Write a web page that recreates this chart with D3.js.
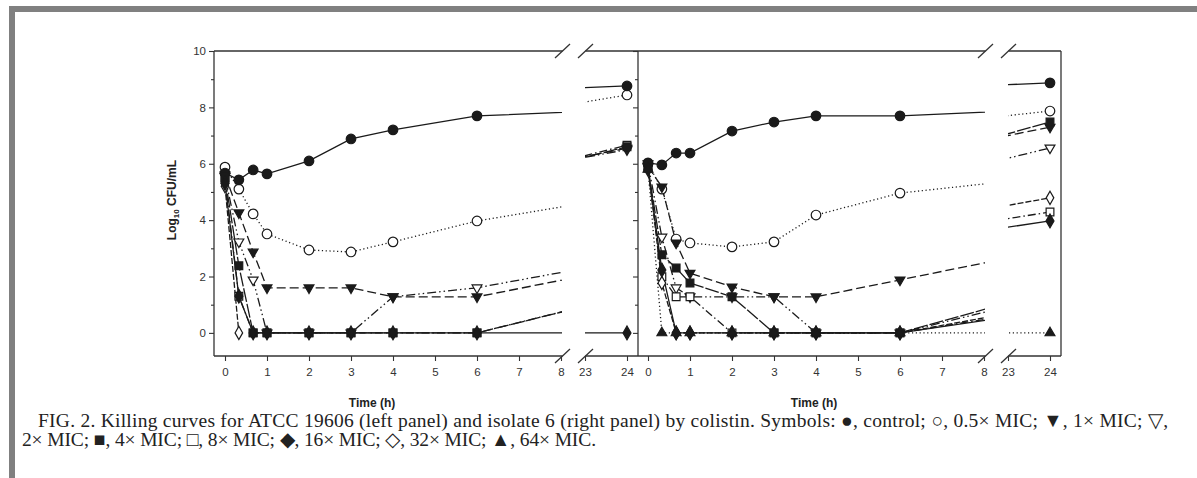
<!DOCTYPE html>
<html>
<head>
<meta charset="utf-8">
<script src="https://cdn.jsdelivr.net/npm/d3@7"></script>
<style>
body { margin: 0; background: #fff; }
svg text { font-family: Arial, "Liberation Sans", sans-serif; }
</style>
</head>
<body>
<svg id="chart" width="1197" height="478"></svg>
<script>
// sampling times (h)
var timeH = [0, 0.33, 0.67, 1, 2, 3, 4, 6, 24];
var xTicksEarly = [0, 1, 2, 3, 4, 5, 6, 7, 8];
var xTicksLate = [23, 24];
var yTicks = [0, 1, 2, 3, 4, 5, 6, 7, 8, 9, 10];
var seriesLabels = ["control", "0.5x MIC", "1x MIC", "2x MIC", "4x MIC", "8x MIC", "16x MIC", "32x MIC", "64x MIC"];

// ATCC 19606 (left panel), log10 CFU/mL
var atccControl = [5.67, 5.43, 5.78, 5.64, 6.1, 6.88, 7.2, 7.7, 8.76];
var atccHalf    = [5.88, 5.1, 4.22, 3.51, 2.94, 2.87, 3.23, 3.97, 8.44];
var atccMic1    = [5.6, 4.26, 2.87, 1.6, 1.6, 1.6, 1.28, 1.28, 6.55];
var atccMic2    = [5.55, 3.23, 1.88, 0, 0, 0, 1.28, 1.6, 6.5];
var atccMic4    = [5.5, 2.38, 0, 0, 0, 0, 0, 0, 6.6];
var atccMic8    = [5.45, 1.3, 0, 0, 0, 0, 0, 0, 6.66];
var atccMic16   = [5.3, 1.3, 0, 0, 0, 0, 0, 0, 0];
var atccMic32   = [5.2, 0, null, null, null, null, null, null, null];
var atccMic64   = [null, null, null, null, null, null, null, null, null];

// isolate 6 (right panel)
var iso6Control = [6.03, 5.96, 6.38, 6.38, 7.16, 7.48, 7.7, 7.7, 8.87];
var iso6Half    = [6.0, 5.1, 3.33, 3.19, 3.05, 3.23, 4.18, 4.96, 7.87];
var iso6Mic1    = [5.9, 5.18, 3.19, 2.12, 1.63, 1.28, 1.28, 1.88, 7.3];
var iso6Mic2    = [6.0, 3.4, 1.6, 1.28, 1.28, 1.28, 0, 0, 6.56];
var iso6Mic4    = [5.85, 2.77, 2.3, 1.77, 1.28, 0, 0, 0, 7.48];
var iso6Mic8    = [5.9, 1.99, 1.28, 1.28, 0, 0, 0, 0, 4.29];
var iso6Mic16   = [5.8, 2.23, 0, 0, 0, 0, 0, 0, 3.97];
var iso6Mic32   = [5.9, 1.77, 0, 0, 0, 0, 0, 0, 4.79];
var iso6Mic64   = [5.8, 0, 0, 0, 0, 0, 0, 0, 0];

// one style per series: symbol, filled, rotation, dash
var styles = [
    {sym: d3.symbolCircle, size: 72, fill: true, rot: 0, dash: null},
    {sym: d3.symbolCircle, size: 72, fill: false, rot: 0, dash: "1.2,2.6"},
    {sym: d3.symbolTriangle, size: 42, fill: true, rot: 180, dash: "9,4"},
    {sym: d3.symbolTriangle, size: 42, fill: false, rot: 180, dash: "9,3,1.5,3,1.5,3"},
    {sym: d3.symbolSquare, size: 60, fill: true, rot: 0, dash: "14,2"},
    {sym: d3.symbolSquare, size: 60, fill: false, rot: 0, dash: "8,3,1.5,3"},
    {sym: d3.symbolDiamond, size: 55, fill: true, rot: 0, dash: null},
    {sym: d3.symbolDiamond, size: 50, fill: false, rot: 0, dash: "6,2"},
    {sym: d3.symbolTriangle, size: 42, fill: true, rot: 0, dash: "1.2,2.6"}
];

var panels = [
    {left: 214, zero: 225, right: 638, yLabels: true, border: false, titleX: 372,
     series: [atccControl, atccHalf, atccMic1, atccMic2, atccMic4, atccMic8, atccMic16, atccMic32, atccMic64]},
    {left: 638, zero: 648, right: 1061, yLabels: false, border: true, titleX: 814,
     series: [iso6Control, iso6Half, iso6Mic1, iso6Mic2, iso6Mic4, iso6Mic8, iso6Mic16, iso6Mic32, iso6Mic64]}
];

var svg = d3.select("#chart");
var yTop = 51, yBottom = 356;
var ink = "#1a1a1a";

// gray page frame
svg.append("rect").attr("x", 9).attr("y", 6).attr("width", 1188).attr("height", 6).attr("fill", "#808080");
svg.append("rect").attr("x", 9).attr("y", 6).attr("width", 6).attr("height", 472).attr("fill", "#808080");

var y = d3.scaleLinear().domain([-0.82, 10]).range([yBottom, yTop]);

var drawPanel = function(p, idx) {
    var g = svg.append("g");
    var xA = d3.scaleLinear().domain([0, 8]).range([p.zero, p.zero + 336]);
    var xB = d3.scaleLinear().domain([23, 24]).range([p.zero + 360, p.zero + 402]);
    var breakA = xA(8) + 1.5, breakB = xB(23) + 0.5;

    // frame lines with breaks
    [yTop, yBottom].forEach(function(yy) {
        g.append("line").attr("x1", p.left).attr("x2", breakA).attr("y1", yy).attr("y2", yy);
        g.append("line").attr("x1", breakB).attr("x2", p.right).attr("y1", yy).attr("y2", yy);
        [breakA, breakB].forEach(function(cx) {
            g.append("line").attr("x1", cx - 7.5).attr("y1", yy + 7).attr("x2", cx + 7.5).attr("y2", yy - 7);
        });
    });
    g.append("line").attr("x1", p.left).attr("x2", p.left).attr("y1", yTop).attr("y2", yBottom);
    if (p.border) {
        g.append("line").attr("x1", p.right).attr("x2", p.right).attr("y1", yTop).attr("y2", yBottom);
    }
    g.selectAll("line").attr("stroke", "#333").attr("stroke-width", 1.3);

    // y axis
    var yAxis = g.append("g").attr("transform", "translate(" + p.left + ",0)")
        .call(d3.axisLeft(y).tickValues(yTicks).tickSize(5).tickPadding(3)
            .tickFormat(function(d) { return (p.yLabels && d % 2 === 0) ? d : ""; }));
    yAxis.select(".domain").remove();
    yAxis.selectAll(".tick line").attr("x2", function(d) { return d % 2 ? -3 : -5; });

    // x axes, before and after the break
    [[xA, xTicksEarly], [xB, xTicksLate]].forEach(function(a) {
        var ax = g.append("g").attr("transform", "translate(0," + yBottom + ")")
            .call(d3.axisBottom(a[0]).tickValues(a[1]).tickSize(5).tickPadding(7).tickFormat(d3.format("d")));
        ax.select(".domain").remove();
    });
    g.selectAll(".tick line").attr("stroke", "#333").attr("stroke-width", 1.1);
    g.selectAll(".tick text").attr("font-size", 11.5).attr("fill", "#333");

    g.append("text").attr("x", p.titleX).attr("y", 407).attr("text-anchor", "middle")
        .attr("font-size", 12).attr("font-weight", "bold").attr("fill", "#222").text("Time (h)");

    // clips for the two pieces of the broken time axis
    var defs = svg.append("defs");
    defs.append("clipPath").attr("id", "clipA" + idx).append("rect")
        .attr("x", p.left - 20).attr("y", 0).attr("width", xA(8) + 1 - p.left + 20).attr("height", 478);
    defs.append("clipPath").attr("id", "clipB" + idx).append("rect")
        .attr("x", xB(23)).attr("y", 0).attr("width", p.right - xB(23)).attr("height", 478);

    var rows = p.series.map(function(vals, si) {
        return {style: styles[si], name: seriesLabels[si],
            pts: timeH.map(function(t, k) { return {t: t, v: vals[k]}; }).filter(function(d) { return d.v != null; })};
    });

    [[xA, "clipA"], [xB, "clipB"]].forEach(function(a) {
        var line = d3.line().x(function(d) { return a[0](d.t); }).y(function(d) { return y(d.v); });
        g.append("g").attr("clip-path", "url(#" + a[1] + idx + ")")
            .selectAll("path").data(rows.filter(function(r) { return r.pts.length > 1; })).enter().append("path")
            .attr("d", function(r) { return line(r.pts); })
            .attr("fill", "none").attr("stroke", ink).attr("stroke-width", 1.3)
            .attr("stroke-dasharray", function(r) { return r.style.dash; });
    });

    // markers: open ones first so the filled ones sit on top
    var ordered = rows.filter(function(r) { return !r.style.fill; }).concat(rows.filter(function(r) { return r.style.fill; }));
    ordered.forEach(function(r) {
        g.append("g").selectAll("path").data(r.pts).enter().append("path")
            .attr("d", d3.symbol().type(r.style.sym).size(r.style.size))
            .attr("transform", function(d) {
                var xx = d.t <= 8 ? xA(d.t) : xB(d.t);
                return "translate(" + xx + "," + y(d.v) + ") rotate(" + r.style.rot + ")";
            })
            .attr("fill", r.style.fill ? ink : "#fff")
            .attr("stroke", ink).attr("stroke-width", 1.2);
    });
};

panels.forEach(drawPanel);

// y axis title
var yt = svg.append("text").attr("transform", "translate(176,200) rotate(-90)").attr("text-anchor", "middle")
    .attr("font-size", 12).attr("font-weight", "bold").attr("fill", "#222");
yt.append("tspan").text("Log");
yt.append("tspan").attr("font-size", 8).attr("dy", 3).text("10");
yt.append("tspan").attr("dy", -3).text(" CFU/mL");

// caption
var cap = svg.append("g").attr("font-size", 19.5).attr("fill", "#222");
cap.append("text").attr("x", 38).attr("y", 427).style("font-family", "'Liberation Serif', serif")
    .attr("textLength", 1130).attr("lengthAdjust", "spacing")
    .text("FIG. 2. Killing curves for ATCC 19606 (left panel) and isolate 6 (right panel) by colistin. Symbols: \u25CF, control; \u25CB, 0.5\u00D7 MIC; \u25BC, 1\u00D7 MIC; \u25BD,");
cap.append("text").attr("x", 22).attr("y", 446).style("font-family", "'Liberation Serif', serif")
    .attr("textLength", 574).attr("lengthAdjust", "spacing")
    .text("2\u00D7 MIC; \u25A0, 4\u00D7 MIC; \u25A1, 8\u00D7 MIC; \u25C6, 16\u00D7 MIC; \u25C7, 32\u00D7 MIC; \u25B2, 64\u00D7 MIC.");
</script>
</body>
</html>
